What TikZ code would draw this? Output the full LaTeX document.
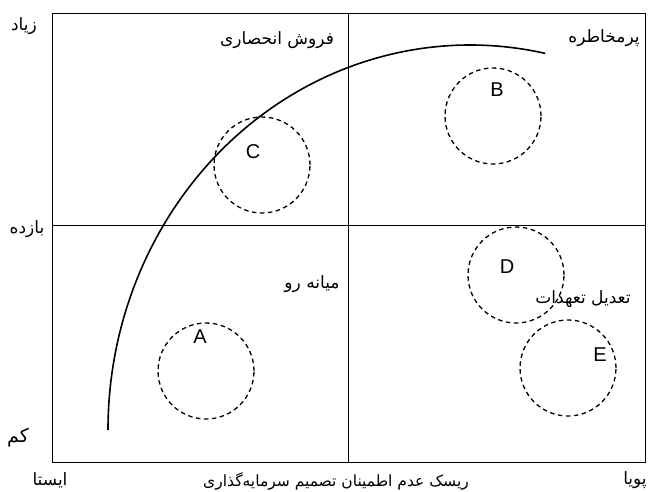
\documentclass[tikz,border=0pt]{standalone}
\usepackage{fontspec}
\setmainfont{Liberation Sans}
\newfontfamily\farsifont[Script=Arabic]{DejaVu Sans}
\TeXXeTstate=1
\usetikzlibrary{positioning}
\newcommand{\fa}[1]{{\farsifont\beginR #1\endR}}

\begin{document}
\begin{tikzpicture}[x=1pt,y=-1pt,
  frame/.style={draw=black,line width=0.9pt},
  zone/.style={circle,draw=black,line width=1.3pt,dash pattern=on 4.5pt off 3.5pt,
               minimum size=96pt,inner sep=0pt},
  tag/.style={font=\fontsize{20}{20}\selectfont,inner sep=0pt},
  fa/.style={font=\fontsize{17}{19}\selectfont,inner sep=0pt},
  trend/.style={draw=black,line width=1.6pt}]
  \useasboundingbox (0,0) rectangle (650,492);
  % grid
  \coordinate (nw) at (52,13);
  \coordinate (se) at (645,462);
  \coordinate (midtop) at (348,13);
  \coordinate (midbot) at (348,462);
  \coordinate (midleft) at (52,225);
  \coordinate (midright) at (645,225);
  \draw[frame] (nw) rectangle (se);
  \draw[frame] (midtop) -- (midbot);
  \draw[frame] (midleft) -- (midright);
  % curve
  \coordinate (curvestart) at (108,430);
  \draw[trend] (curvestart) arc[start angle=180,end angle=282,x radius=362,y radius=385];
  % zones
  \node[zone] (zoneA) at (206,371) {};
  \node[zone] (zoneB) at (493,116) {};
  \node[zone] (zoneC) at (262,165) {};
  \node[zone] (zoneD) at (516,275) {};
  \node[zone] (zoneE) at (568,368) {};
  \node[tag] (tagA) at (200,337) {A};
  \node[tag] (tagB) at (497,90) {B};
  \node[tag] (tagC) at (253,152) {C};
  \node[tag] (tagD) at (507,267) {D};
  \node[tag] (tagE) at (600,355) {E};
  % quadrant names
  \node[fa] (monopoly) at (277,40) {\fa{فروش انحصاری}};
  \node[fa] (risky) at (604,38) {\fa{پرمخاطره}};
  \node[fa] (moderate) at (312,284) {\fa{میانه رو}};
  \node[fa] (adjust) at (583,299) {\fa{تعدیل تعهدات}};
  % axes
  \node[fa] (high) at (24,26) {\fa{زیاد}};
  \node[fa] (yield) at (27,229) {\fa{بازده}};
  \node[fa,font=\fontsize{19}{21}\selectfont] (low) at (18,438) {\fa{کم}};
  \node[fa] (static) at (50,480) {\fa{ایستا}};
  \node[fa,font=\fontsize{15.5}{18}\selectfont] (xtitle) at (336,481) {\fa{ریسک عدم اطمینان تصمیم سرمایه‌گذاری}};
  \node[fa] (dynamic) at (635,480) {\fa{پویا}};
\end{tikzpicture}
\end{document}
